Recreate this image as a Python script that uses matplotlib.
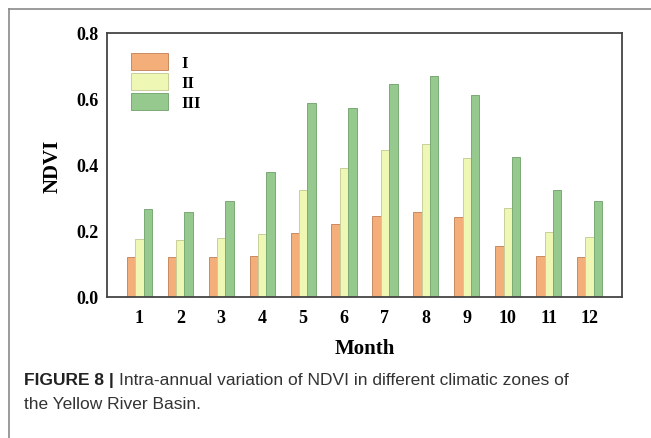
import matplotlib
matplotlib.use("Agg")
import matplotlib.pyplot as plt
from matplotlib.lines import Line2D
import numpy as np

months = ["1", "2", "3", "4", "5", "6", "7", "8", "9", "10", "11", "12"]
zone_names = ["I", "II", "III"]
zone_I = [0.121, 0.120, 0.120, 0.125, 0.195, 0.220, 0.244, 0.258, 0.241, 0.155, 0.124, 0.121]
zone_II = [0.177, 0.174, 0.179, 0.192, 0.324, 0.392, 0.446, 0.464, 0.422, 0.270, 0.197, 0.182]
zone_III = [0.267, 0.259, 0.292, 0.379, 0.588, 0.573, 0.646, 0.669, 0.612, 0.425, 0.325, 0.290]
yticks = [0.0, 0.2, 0.4, 0.6, 0.8]

colors = ["#F3AE7A", "#EEF8B4", "#95C98E"]
edges = ["#C98A62", "#C8CF9A", "#7BAA75"]

W, H = 651, 439
fig = plt.figure(figsize=(W / 100, H / 100), dpi=100)
ax = fig.add_axes([107 / W, 1 - 298 / H, (622 - 107) / W, (298 - 34) / H])

serif = ["Liberation Serif", "DejaVu Serif"]
x = np.arange(1, 13)
w = 0.205
for i, (vals, name) in enumerate(zip([zone_I, zone_II, zone_III], zone_names)):
    ax.bar(x + (i - 1) * w, vals, w, color=colors[i], edgecolor=edges[i],
           linewidth=0.7, label=name)

ax.set_xlim(0.21, 12.79)
ax.set_ylim(0, 0.8)
ax.set_xticks(x)
ax.set_xticklabels(months)
ax.set_yticks(yticks)
ax.set_yticklabels(["%.1f" % v for v in yticks])
ax.tick_params(length=0, labelsize=13)
ax.tick_params(axis="x", pad=9)
ax.tick_params(axis="y", pad=6)
for lab in ax.get_xticklabels() + ax.get_yticklabels():
    lab.set_fontfamily(serif)
    lab.set_fontweight("bold")
for s in ax.spines.values():
    s.set_color("#444444")
    s.set_linewidth(1.3)

ax.set_xlabel("Month", fontsize=15, fontweight="bold", family=serif, labelpad=8)
ax.set_ylabel("NDVI", fontsize=15, fontweight="bold", family=serif, labelpad=10)

leg = ax.legend(loc="upper left", bbox_to_anchor=(0.047, 0.925), frameon=False,
                prop={"family": serif, "weight": "bold", "size": 12},
                borderpad=0, borderaxespad=0,
                handlelength=2.2, handleheight=1.2, labelspacing=0.12,
                handletextpad=0.8)

# outer frame (top and left edge)
fig.add_artist(Line2D([9 / W, 9 / W], [0, 1 - 10 / H], color="#8a8a8a", lw=1.2))
fig.add_artist(Line2D([9 / W, 1], [1 - 10 / H, 1 - 10 / H], color="#8a8a8a", lw=1.2))

# caption
cap_font = ["Liberation Sans", "DejaVu Sans"]
t1 = fig.text(24 / W, 1 - 381 / H, "FIGURE 8 |", fontsize=12.5, fontweight="bold",
              family=cap_font, color="#222222", va="center")
fig.canvas.draw()
bb = t1.get_window_extent(fig.canvas.get_renderer())
fig.text((bb.x1 + 5) / W, 1 - 381 / H,
         "Intra-annual variation of NDVI in different climatic zones of",
         fontsize=12.5, family=cap_font, color="#333333", va="center")
fig.text(24 / W, 1 - 405 / H, "the Yellow River Basin.", fontsize=12.5,
         family=cap_font, color="#333333", va="center")

fig.savefig("out.png", dpi=100)
